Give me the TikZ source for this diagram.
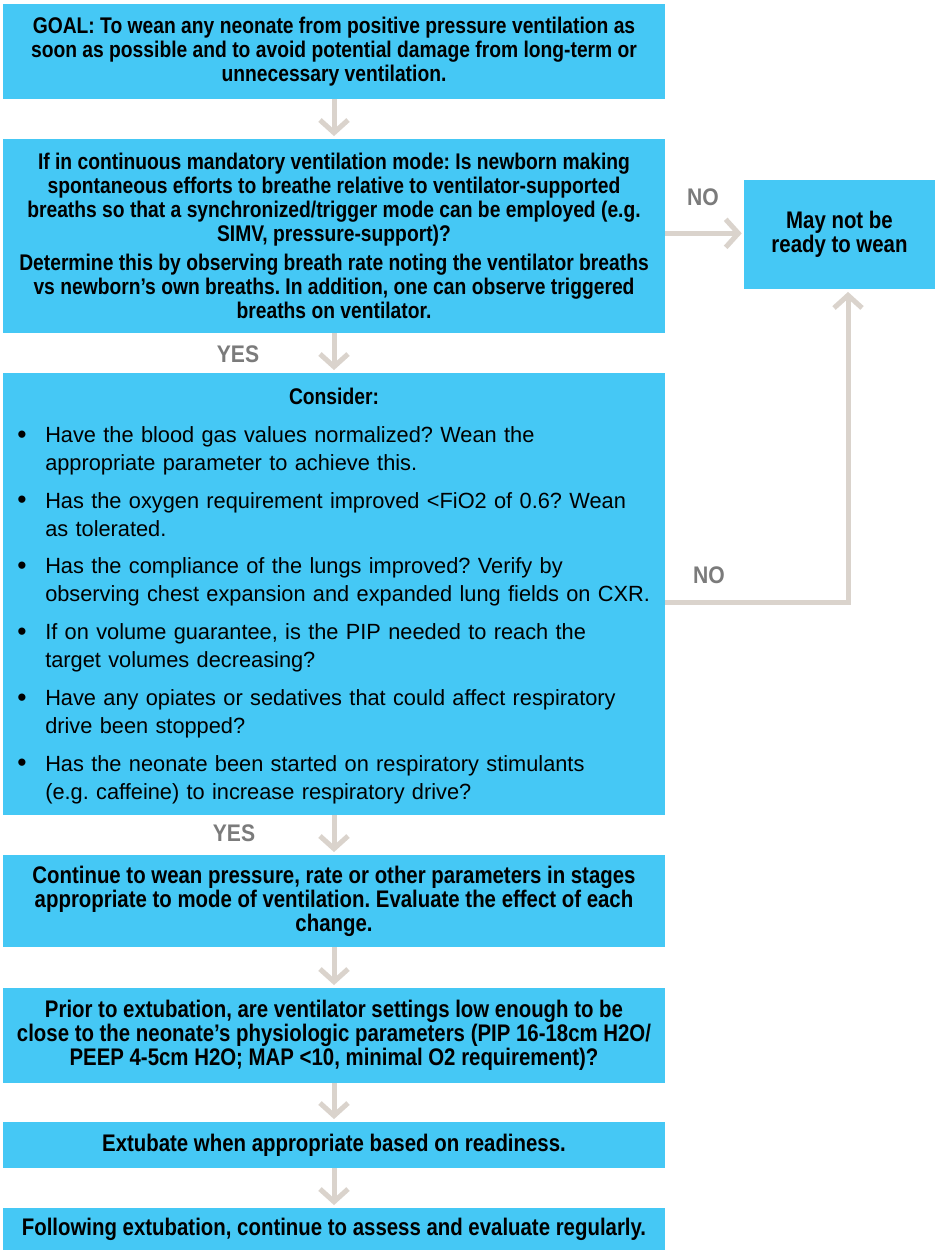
\documentclass[tikz,border=0pt]{standalone}
\usepackage{fontspec}
\setmainfont{Liberation Sans}
\newfontfamily\boxfont{Liberation Sans}[FakeStretch=0.85]
\newfontfamily\listfont{Liberation Sans}[FakeStretch=0.99]
\newfontfamily\labelfont{Liberation Sans}[FakeStretch=0.88]
\usetikzlibrary{arrows.meta}
\definecolor{boxblue}{HTML}{45C8F5}
\definecolor{arrowgray}{HTML}{DAD3CC}
\definecolor{labelgray}{HTML}{7B7B7B}
\frenchspacing
% one bullet point with a hanging indent
\newcommand{\bitem}[1]{\par\noindent\hangindent=21pt\hangafter=1%
  \makebox[21pt][l]{\raisebox{-0.5pt}{\fontsize{20}{21}\selectfont\textbullet}}#1\par}
\begin{document}
\begin{tikzpicture}[x=0.75pt,y=-0.75pt,
  flowbox/.style={fill=boxblue, draw=none, inner sep=0pt, align=center,
    minimum width=496.5pt, font=\boxfont\bfseries\fontsize{17}{18}\selectfont},
  bigbox/.style={flowbox, font=\boxfont\bfseries\fontsize{18}{18}\selectfont},
  sidebox/.style={bigbox, minimum width=143.25pt},
  listtext/.style={inner sep=0pt, text width=600pt,
    font=\listfont\fontsize{16.5}{21}\selectfont},
  flow/.style={draw=arrowgray, line width=3.75pt,
    -{Straight Barb[length=9.5pt,width=21pt]}},
  branch/.style={text=labelgray, inner sep=0pt,
    font=\labelfont\bfseries\fontsize{18}{20}\selectfont}]
\useasboundingbox[fill=white] (0,0) rectangle (937,1250);

% boxes of the main column
\node[flowbox, minimum height=71.25pt] (goal) at (334,51.5)
  {GOAL: To wean any neonate from positive pressure ventilation as\\
   soon as possible and to avoid potential damage from long-term or\\
   unnecessary ventilation.};
\node[flowbox, minimum height=145.5pt] (q1) at (334,236)
  {If in continuous mandatory ventilation mode: Is newborn making\\
   spontaneous efforts to breathe relative to ventilator-supported\\
   breaths so that a synchronized/trigger mode can be employed (e.g.\\
   SIMV, pressure-support)?\\[4pt]
   Determine this by observing breath rate noting the ventilator breaths\\
   vs newborn’s own breaths. In addition, one can observe triggered\\
   breaths on ventilator.};
\node[sidebox, minimum height=81.75pt] (nr) at (839.5,234.5)
  {May not be\\ ready to wean};
\node[flowbox, minimum height=331.5pt] (cons) at (334,594) {};
\node[flowbox, anchor=base] (constitle) at (334,404) {Consider:};
\node[listtext, anchor=north west] (items) at (17,404.5) {%
  \setlength{\parskip}{7.3pt}%
  \bitem{Have the blood gas values normalized? Wean the\newline
    appropriate parameter to achieve this.}
  \bitem{Has the oxygen requirement improved <FiO2 of 0.6? Wean\newline
    as tolerated.}
  \bitem{Has the compliance of the lungs improved? Verify by\newline
    observing chest expansion and expanded lung fields on CXR.}
  \bitem{If on volume guarantee, is the PIP needed to reach the\newline
    target volumes decreasing?}
  \bitem{Have any opiates or sedatives that could affect respiratory\newline
    drive been stopped?}
  \bitem{Has the neonate been started on respiratory stimulants\newline
    (e.g. caffeine) to increase respiratory drive?}};
\node[bigbox, minimum height=69pt] (cont) at (334,901)
  {Continue to wean pressure, rate or other parameters in stages\\
   appropriate to mode of ventilation. Evaluate the effect of each\\
   change.};
\node[bigbox, minimum height=71.25pt] (prior) at (334,1035.5)
  {Prior to extubation, are ventilator settings low enough to be\\
   close to the neonate’s physiologic parameters (PIP 16-18cm H2O/\\
   PEEP 4-5cm H2O; MAP <10, minimal O2 requirement)?};
\node[bigbox, minimum height=34.5pt] (extub) at (334,1145)
  {Extubate when appropriate based on readiness.};
\node[bigbox, minimum height=31.5pt] (follow) at (334,1229)
  {Following extubation, continue to assess and evaluate regularly.};

% connectors
\draw[flow] (goal.south) -- ([yshift=2pt]q1.north);
\draw[flow] (q1.south) -- ([yshift=2pt]cons.north);
\draw[flow] (cons.south) -- ([yshift=2pt]cont.north);
\draw[flow] (cont.south) -- ([yshift=2pt]prior.north);
\draw[flow] (prior.south) -- ([yshift=2pt]extub.north);
\draw[flow] (extub.south) -- ([yshift=2pt]follow.north);
\draw[flow] ([yshift=2pt]q1.east) -- ([xshift=-1.5pt,yshift=2pt]q1.east -| nr.west);
\draw[flow] ([yshift=-6pt]cons.east) -| ([xshift=6.4pt,yshift=-2pt]nr.south);

% branch labels
\node[branch] (no1) at (703,197) {NO};
\node[branch] (yes1) at (238,354) {YES};
\node[branch] (no2) at (709,575) {NO};
\node[branch] (yes2) at (234,833) {YES};
\end{tikzpicture}
\end{document}
